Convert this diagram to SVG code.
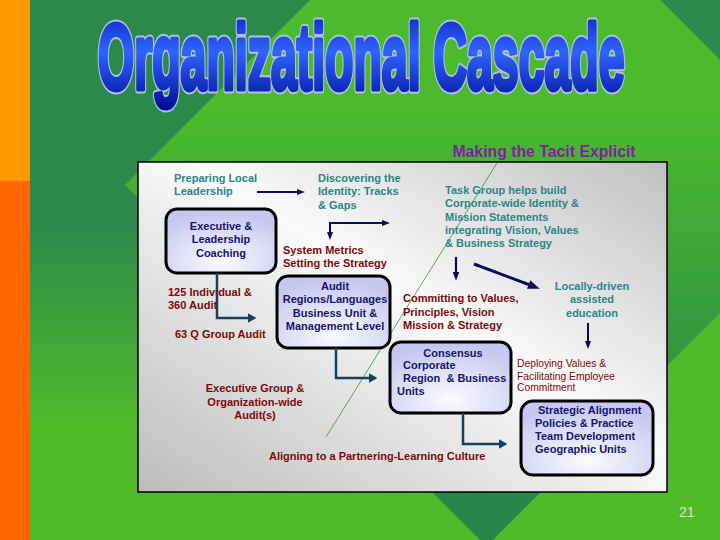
<svg xmlns="http://www.w3.org/2000/svg" width="720" height="540" viewBox="0 0 720 540">
<defs>
<linearGradient id="bgOut" x1="0" y1="0" x2="0" y2="540" gradientUnits="userSpaceOnUse">
<stop offset="0.42" stop-color="#2b8a4b"/>
<stop offset="0.78" stop-color="#4dbb2a"/>
</linearGradient>
<linearGradient id="bgDia" x1="0" y1="0" x2="0" y2="546" gradientUnits="userSpaceOnUse">
<stop offset="0.2" stop-color="#4cba2c"/>
<stop offset="0.85" stop-color="#27874b"/>
</linearGradient>
<linearGradient id="panelG" x1="0" y1="1" x2="1" y2="0">
<stop offset="0" stop-color="#bcbcbc"/>
<stop offset="0.55" stop-color="#fafafa"/>
<stop offset="1" stop-color="#c0c0c0"/>
</linearGradient>
<radialGradient id="boxG" cx="0.5" cy="0.8" r="0.75">
<stop offset="0" stop-color="#fbfbff"/>
<stop offset="1" stop-color="#c6c6f1"/>
</radialGradient>
<linearGradient id="titleG" x1="0" y1="0" x2="0" y2="1">
<stop offset="0" stop-color="#0a22b8"/>
<stop offset="0.45" stop-color="#2f63ff"/>
<stop offset="1" stop-color="#000f96"/>
</linearGradient>
<marker id="ahN" viewBox="0 0 4 3" refX="0.5" refY="1.5" markerWidth="4" markerHeight="3" orient="auto" markerUnits="strokeWidth">
<path d="M0,0 L4,1.5 L0,3 z" fill="#0b0b5c"/>
</marker>
<marker id="ahS" viewBox="0 0 3.4 4" refX="0.5" refY="2" markerWidth="3.4" markerHeight="4" orient="auto" markerUnits="strokeWidth">
<path d="M0,0 L3.4,2 L0,4 z" fill="#17405f"/>
</marker>
<style>
.t{font-family:"Liberation Sans",Arial,sans-serif;font-size:11px;font-weight:bold}
.teal{fill:#2a8688}
.red{fill:#7d0a0a}
.navy{fill:#15156b}
.box{fill:url(#boxG);stroke:#000;stroke-width:3}
.nav{stroke:#0b0b5c;fill:none;marker-end:url(#ahN)}
.elb{stroke:#17405f;stroke-width:2.5;fill:none;marker-end:url(#ahS)}
.ttl{font-family:"Liberation Sans",Arial,sans-serif;font-weight:bold;font-size:92px}
</style>
</defs>

<!-- background -->
<rect x="0" y="0" width="720" height="540" fill="url(#bgOut)"/>
<polygon points="125,185 485.5,-175.5 846.5,186.5 486.5,546.5" fill="url(#bgDia)"/>
<polygon points="720,313 720,540 493,540" fill="#4dbb2a"/>
<rect x="0" y="0" width="30" height="181" fill="#ff9900"/>
<rect x="0" y="181" width="30" height="359" fill="#ff6600"/>

<!-- title -->
<g id="title" transform="translate(98,89) scale(0.505,1)">
<text class="ttl" x="0" y="0" fill="#b3c0df" stroke="#b3c0df" stroke-width="9" stroke-linejoin="round">Organizational Cascade</text>
<text class="ttl" x="0" y="0" fill="url(#titleG)" stroke="url(#titleG)" stroke-width="5" stroke-linejoin="round">Organizational Cascade</text>
</g>
<text x="544" y="157" text-anchor="middle" font-family="Liberation Sans,Arial,sans-serif" font-weight="bold" font-size="15.8" fill="#7f1fa0">Making the Tacit Explicit</text>

<!-- panel -->
<rect x="138" y="162" width="529" height="330" fill="url(#panelG)" stroke="#000" stroke-width="1.5"/>
<line x1="497" y1="163" x2="326" y2="437" stroke="#3f8f3f" stroke-width="0.8"/>

<!-- nodes -->
<g id="preparing" class="t teal"><text x="174" y="182">Preparing Local</text><text x="174" y="195">Leadership</text></g>
<g id="discovering" class="t teal"><text x="318" y="182">Discovering the</text><text x="318" y="195">Identity: Tracks</text><text x="318" y="209">&amp; Gaps</text></g>
<g id="exec-coaching"><rect class="box" x="166" y="209" width="110" height="64" rx="11"/>
<g class="t navy" text-anchor="middle"><text x="221" y="230">Executive &amp;</text><text x="221" y="243">Leadership</text><text x="221" y="257">Coaching</text></g></g>
<g id="system-metrics" class="t red"><text x="283" y="254">System Metrics</text><text x="283" y="267">Setting the Strategy</text></g>
<g id="individual" class="t red"><text x="168" y="296">125 Individual &amp;</text><text x="168" y="309">360 Audit</text></g>
<g id="group-audit" class="t red"><text x="175" y="338">63 Q Group Audit</text></g>
<g id="audit"><rect class="box" x="277" y="276" width="113" height="72" rx="11"/>
<g class="t navy" text-anchor="middle"><text x="335" y="290">Audit</text><text x="335" y="303">Regions/Languages</text><text x="335" y="317">Business Unit &amp;</text><text x="335" y="330">Management Level</text></g></g>
<g id="task-group" class="t teal"><text x="445" y="194">Task Group helps build</text><text x="445" y="207">Corporate-wide Identity &amp;</text><text x="445" y="221">Mission Statements</text><text x="445" y="234">integrating Vision, Values</text><text x="445" y="247">&amp; Business Strategy</text></g>
<g id="committing" class="t red"><text x="403" y="302">Committing to Values,</text><text x="403" y="316">Principles, Vision</text><text x="403" y="329">Mission &amp; Strategy</text></g>
<g id="locally" class="t teal" text-anchor="middle"><text x="592" y="290">Locally-driven</text><text x="592" y="303">assisted</text><text x="592" y="317">education</text></g>
<g id="consensus"><rect class="box" x="390" y="342" width="121" height="71" rx="11"/>
<g class="t navy"><text x="453" y="357" text-anchor="middle">Consensus</text><text x="403" y="369">Corporate</text><text x="403" y="382" xml:space="preserve">Region  &amp; Business</text><text x="397" y="395">Units</text></g></g>
<g id="deploying" font-family="Liberation Sans,Arial,sans-serif" font-size="10.3" fill="#7d0a0a"><text x="517" y="367">Deploying Values &amp;</text><text x="517" y="380">Facilitating Employee</text><text x="517" y="391">Commitment</text></g>
<g id="strategic"><rect class="box" x="521" y="401" width="132" height="74" rx="12"/>
<g class="t navy"><text x="538" y="414">Strategic Alignment</text><text x="535" y="427">Policies &amp; Practice</text><text x="535" y="440">Team Development</text><text x="535" y="453">Geographic Units</text></g></g>
<g id="exec-group" class="t red" text-anchor="middle"><text x="255" y="392">Executive Group &amp;</text><text x="255" y="406">Organization-wide</text><text x="255" y="419">Audit(s)</text></g>
<g id="aligning" class="t red"><text x="269" y="460">Aligning to a Partnering-Learning Culture</text></g>

<!-- connectors -->
<g id="connectors">
<line class="nav" x1="257" y1="192" x2="298" y2="192" stroke-width="2"/>
<polyline class="nav" points="330,223 383,223" stroke-width="2"/>
<polyline class="nav" points="330,222 330,233" stroke-width="2"/>
<line class="nav" x1="456" y1="257" x2="456" y2="273" stroke-width="2.2"/>
<line class="nav" x1="474" y1="264" x2="530" y2="285" stroke-width="3"/>
<line class="nav" x1="588" y1="323" x2="588" y2="342" stroke-width="2"/>
<polyline class="elb" points="217,273 217,318 249,318"/>
<polyline class="elb" points="336,348 336,378 370,378"/>
<polyline class="elb" points="463,413 463,444 500,444"/>
</g>

<text x="679" y="517" font-family="Liberation Sans,Arial,sans-serif" font-size="14" fill="#d6eccc">21</text>
</svg>
